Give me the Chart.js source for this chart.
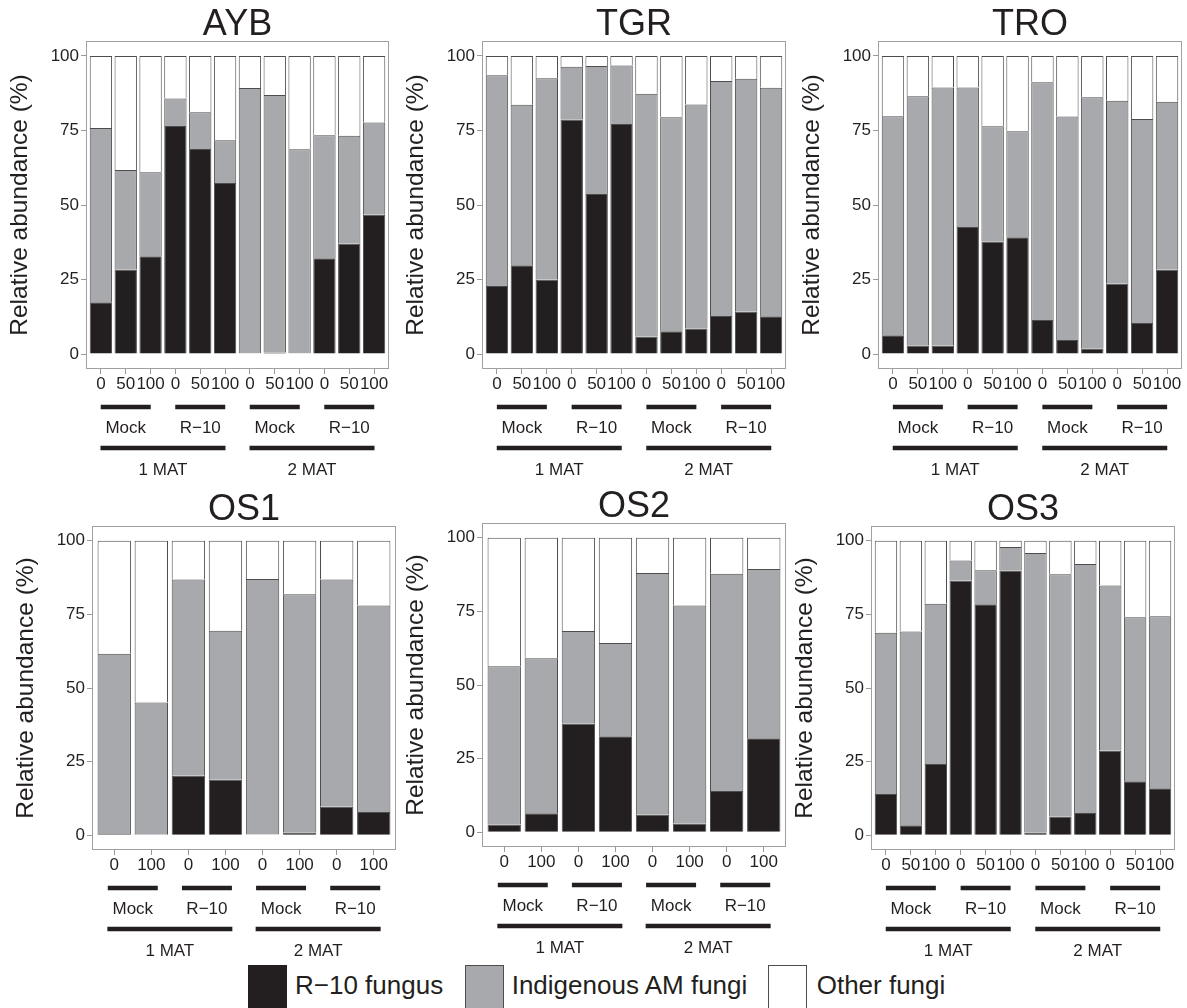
<!DOCTYPE html>
<html>
<head>
<meta charset="utf-8">
<script src="https://cdn.jsdelivr.net/npm/chart.js@4.4.0/dist/chart.umd.min.js"></script>
<style>
  body { margin: 0; background: #fff; width: 1187px; height: 1008px; position: relative; overflow: hidden;
         font-family: "Liberation Sans", Arial, sans-serif; color: #231f20; }
  .panel { position: absolute; }
  .key { position: absolute; top: 965px; width: 37px; height: 50px; border: 1px solid #4d4d4d; }
  .lab { position: absolute; top: 972px; font-size: 26px; line-height: 26px; white-space: nowrap; }
</style>
</head>
<body>
<script>
// x categories
const doses12 = ["0", "50", "100", "0", "50", "100", "0", "50", "100", "0", "50", "100"];
const trt12 = ["Mock", "Mock", "Mock", "R−10", "R−10", "R−10", "Mock", "Mock", "Mock", "R−10", "R−10", "R−10"];
const mat12 = ["1 MAT", "1 MAT", "1 MAT", "1 MAT", "1 MAT", "1 MAT", "2 MAT", "2 MAT", "2 MAT", "2 MAT", "2 MAT", "2 MAT"];
const doses8 = ["0", "100", "0", "100", "0", "100", "0", "100"];
const trt8 = ["Mock", "Mock", "R−10", "R−10", "Mock", "Mock", "R−10", "R−10"];
const mat8 = ["1 MAT", "1 MAT", "1 MAT", "1 MAT", "2 MAT", "2 MAT", "2 MAT", "2 MAT"];
const yTicks = [0, 25, 50, 75, 100];

const seriesNames = ["R−10 fungus", "Indigenous AM fungi", "Other fungi"];
const seriesColors = ["#231f20", "#a7a9ac", "#ffffff"];

// segment sizes (%), bottom to top
const aybR10 = [17.4, 28.4, 32.8, 76.5, 68.8, 57.4, 0.3, 0.5, 0.3, 32.1, 37.0, 46.7];
const aybAM = [58.4, 33.3, 28.2, 9.2, 12.3, 14.3, 88.9, 86.4, 68.4, 41.3, 36.2, 31.0];
const aybOther = [24.2, 38.3, 39.0, 14.3, 18.9, 28.3, 10.8, 13.1, 31.3, 26.6, 26.8, 22.3];

const tgrR10 = [22.8, 29.8, 24.9, 78.7, 53.7, 77.2, 5.8, 7.7, 8.6, 12.8, 14.2, 12.7];
const tgrAM = [70.7, 53.8, 67.6, 17.7, 42.9, 19.6, 81.5, 71.7, 75.1, 78.8, 78.1, 76.6];
const tgrOther = [6.5, 16.4, 7.5, 3.6, 3.4, 3.2, 12.7, 20.6, 16.3, 8.4, 7.7, 10.7];

const troR10 = [6.3, 2.9, 2.8, 42.6, 37.8, 39.2, 11.4, 4.7, 1.9, 23.6, 10.4, 28.3];
const troAM = [73.5, 83.6, 86.6, 46.8, 38.6, 35.5, 79.8, 75.0, 84.2, 61.4, 68.4, 56.3];
const troOther = [20.2, 13.5, 10.6, 10.6, 23.6, 25.3, 8.8, 20.3, 13.9, 15.0, 21.2, 15.4];

const os1R10 = [0.4, 0.2, 20.2, 18.9, 0.3, 0.9, 9.7, 7.9];
const os1AM = [61.2, 44.9, 66.6, 50.5, 86.7, 80.9, 77.1, 70.1];
const os1Other = [38.4, 54.9, 13.2, 30.6, 13.0, 18.2, 13.2, 22.0];

const os2R10 = [2.6, 6.5, 36.9, 32.6, 6.0, 3.0, 14.0, 31.9];
const os2AM = [53.8, 52.6, 31.4, 31.7, 82.0, 74.0, 73.8, 57.5];
const os2Other = [43.6, 40.9, 31.7, 35.7, 12.0, 23.0, 12.2, 10.6];

const os3R10 = [14.0, 3.4, 24.2, 86.4, 78.4, 89.9, 0.9, 6.4, 7.6, 28.7, 18.3, 16.0];
const os3AM = [54.8, 65.8, 54.4, 6.9, 11.6, 8.0, 94.9, 82.2, 84.5, 56.1, 55.7, 58.4];
const os3Other = [31.2, 30.8, 21.4, 6.7, 10.0, 2.1, 4.2, 11.4, 7.9, 15.2, 26.0, 25.6];

Chart.defaults.font.family = '"Liberation Sans", Arial, sans-serif';
Chart.defaults.color = "#231f20";

const TEXT = "#231f20";

// panel border + title + grouping bars under the x axis
const panelDeco = {
  id: "panelDeco",
  beforeDatasetsDraw(chart) {
    const { ctx, chartArea: a } = chart;
    ctx.save();
    ctx.strokeStyle = "#a0a0a0";
    ctx.lineWidth = 1;
    ctx.strokeRect(a.left + 0.5, a.top + 0.5, a.right - a.left - 1, a.bottom - a.top - 1);
    ctx.restore();
  },
  afterDraw(chart, args, opts) {
    const { ctx, chartArea: a, scales: { x } } = chart;
    ctx.save();
    ctx.fillStyle = TEXT;
    ctx.textAlign = "center";
    ctx.textBaseline = "alphabetic";
    ctx.font = '36px "Liberation Sans", Arial, sans-serif';
    ctx.fillText(opts.title, (a.left + a.right) / 2, a.top - 6);

    ctx.font = '17px "Liberation Sans", Arial, sans-serif';
    ctx.textBaseline = "middle";
    ctx.strokeStyle = TEXT;
    ctx.lineWidth = 4.5;
    // [labels, line offset, text offset, line half length]
    const rows = [[opts.trt, 38, 59, 25], [opts.mat, 79, 101, 62.5]];
    rows.forEach(([labels, lineY, textY, half]) => {
      let start = 0;
      for (let i = 1; i <= labels.length; i++) {
        if (i === labels.length || labels[i] !== labels[start]) {
          const cx = (x.getPixelForValue(start + 1) + x.getPixelForValue(i)) / 2;
          ctx.beginPath();
          ctx.moveTo(cx - half, a.bottom + lineY);
          ctx.lineTo(cx + half, a.bottom + lineY);
          ctx.stroke();
          ctx.fillText(labels[start], cx, a.bottom + textY);
          start = i;
        }
      }
    });
    ctx.restore();
  }
};

function makePanel(title, area, doses, trt, mat, r10, am, other) {
  const W = Math.round(area.w + 92);
  const H = Math.round(area.h + 152);
  const div = document.createElement("div");
  div.className = "panel";
  div.style.left = Math.round(area.l - 86) + "px";
  div.style.top = Math.round(area.t - 41) + "px";
  const canvas = document.createElement("canvas");
  canvas.width = W;
  canvas.height = H;
  canvas.style.width = W + "px";
  canvas.style.height = H + "px";
  div.appendChild(canvas);
  document.body.appendChild(div);

  const n = doses.length;
  const series = [r10, am, other];
  new Chart(canvas.getContext("2d"), {
    type: "bar",
    data: {
      datasets: series.map((vals, k) => ({
        label: seriesNames[k],
        data: vals.map((v, i) => ({ x: i + 1, y: v })),
        backgroundColor: seriesColors[k],
        borderColor: "#4d4d4d",
        borderWidth: 1,
        barPercentage: 0.9,
        categoryPercentage: 1.0
      }))
    },
    options: {
      responsive: false,
      animation: false,
      layout: { padding: { left: 0, right: 6, top: 41, bottom: 81 } },
      plugins: {
        legend: { display: false },
        tooltip: { enabled: false },
        panelDeco: { title: title, trt: trt, mat: mat }
      },
      scales: {
        x: {
          type: "linear",
          min: 0.4,
          max: n + 0.6,
          offset: false,
          stacked: true,
          afterBuildTicks: (ax) => { ax.ticks = doses.map((d, i) => ({ value: i + 1 })); },
          afterFit: (ax) => { ax.height = 30; },
          ticks: {
            autoSkip: false, maxRotation: 0, minRotation: 0, padding: 0,
            color: TEXT, font: { size: 17 },
            callback: (v) => doses[Math.round(v) - 1]
          },
          grid: { offset: false, drawOnChartArea: false, tickLength: 5, color: "#999", tickColor: "#999" },
          border: { display: false }
        },
        y: {
          min: -5,
          max: 105,
          stacked: true,
          afterBuildTicks: (ax) => { ax.ticks = yTicks.map((v) => ({ value: v })); },
          afterFit: (ax) => { ax.width = 86; },
          ticks: { padding: 2, color: TEXT, font: { size: 17 } },
          grid: { drawOnChartArea: false, tickLength: 5, color: "#999", tickColor: "#999" },
          border: { display: false },
          title: {
            display: true, text: "Relative abundance (%)", color: TEXT,
            font: { size: 24.5 }, padding: { top: 6, bottom: 0 }
          }
        }
      }
    },
    plugins: [panelDeco]
  });
}

makePanel("AYB", { l: 85.7, t: 41, w: 303.3, h: 328 }, doses12, trt12, mat12, aybR10, aybAM, aybOther);
makePanel("TGR", { l: 481.7, t: 41, w: 304, h: 328 }, doses12, trt12, mat12, tgrR10, tgrAM, tgrOther);
makePanel("TRO", { l: 878.3, t: 41, w: 304, h: 328 }, doses12, trt12, mat12, troR10, troAM, troOther);
makePanel("OS1", { l: 92.3, t: 525.7, w: 304.4, h: 323.6 }, doses8, trt8, mat8, os1R10, os1AM, os1Other);
makePanel("OS2", { l: 481.7, t: 523.3, w: 304.3, h: 324.4 }, doses8, trt8, mat8, os2R10, os2AM, os2Other);
makePanel("OS3", { l: 871, t: 525.7, w: 304, h: 323.6 }, doses12, trt12, mat12, os3R10, os3AM, os3Other);

// shared legend
const keyLeft = [247.7, 465, 768];
const labLeft = [295, 511.7, 816.7];
seriesNames.forEach((name, k) => {
  const box = document.createElement("div");
  box.className = "key";
  box.style.left = keyLeft[k] + "px";
  box.style.background = seriesColors[k];
  if (k === 0) box.style.borderColor = seriesColors[0];
  document.body.appendChild(box);
  const lab = document.createElement("span");
  lab.className = "lab";
  lab.style.left = labLeft[k] + "px";
  lab.textContent = name;
  document.body.appendChild(lab);
});
</script>
</body>
</html>
